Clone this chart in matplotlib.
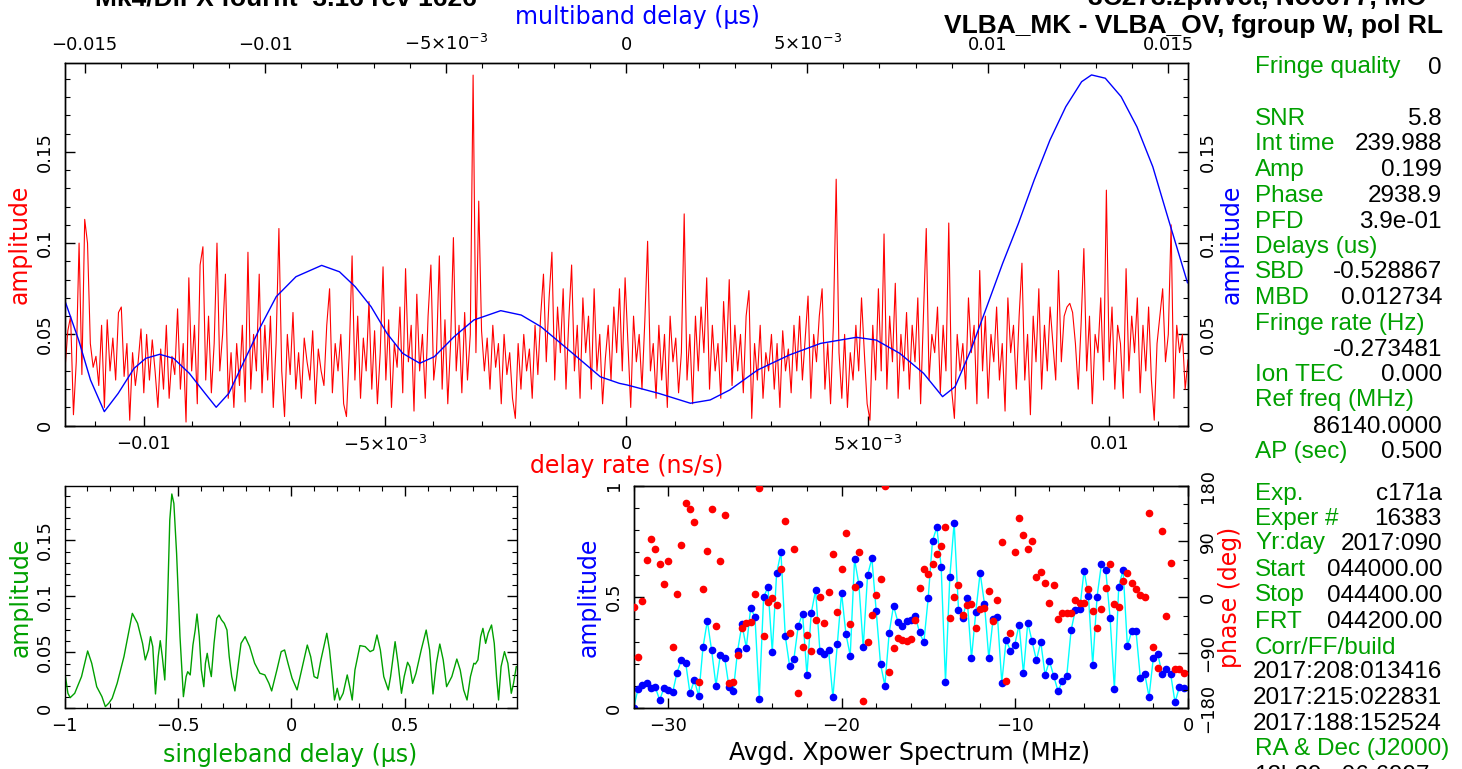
import matplotlib
matplotlib.use("Agg")
import matplotlib.pyplot as plt
from matplotlib.ticker import FixedLocator, FixedFormatter, MultipleLocator
import numpy as np

# ---------------- data ----------------
# delay-rate spectrum (red), evenly sampled across the bottom axis
rate_lo, rate_hi = -0.01163, 0.01163
rate_amp = [
    0.031, 0.052, 0.060, 0.006, 0.035, 0.100, 0.028, 0.113, 0.100, 0.045, 0.032, 0.038, 0.022, 0.055, 0.010, 0.058, 0.030, 0.048, 0.025, 0.062,
    0.065, 0.027, 0.045, 0.003, 0.040, 0.022, 0.035, 0.053, 0.018, 0.050, 0.025, 0.047, 0.030, 0.010, 0.042, 0.020, 0.055, 0.015, 0.038, 0.028,
    0.064, 0.020, 0.045, 0.002, 0.081, 0.030, 0.055, 0.012, 0.088, 0.098, 0.025, 0.060, 0.018, 0.045, 0.100, 0.030, 0.050, 0.083, 0.015, 0.040,
    0.010, 0.045, 0.022, 0.055, 0.013, 0.095, 0.020, 0.050, 0.030, 0.083, 0.018, 0.055, 0.025, 0.060, 0.010, 0.045, 0.108, 0.030, 0.005, 0.050,
    0.028, 0.062, 0.020, 0.040, 0.015, 0.048, 0.035, 0.025, 0.052, 0.012, 0.042, 0.030, 0.022, 0.055, 0.075, 0.018, 0.045, 0.030, 0.050, 0.012,
    0.005, 0.040, 0.093, 0.025, 0.060, 0.015, 0.048, 0.030, 0.068, 0.020, 0.052, 0.012, 0.040, 0.087, 0.025, 0.058, 0.010, 0.045, 0.032, 0.065,
    0.018, 0.086, 0.035, 0.055, 0.008, 0.072, 0.030, 0.050, 0.015, 0.060, 0.088, 0.025, 0.040, 0.093, 0.020, 0.058, 0.012, 0.045, 0.103, 0.030,
    0.055, 0.018, 0.062, 0.025, 0.050, 0.192, 0.040, 0.123, 0.052, 0.030, 0.048, 0.020, 0.055, 0.032, 0.045, 0.012, 0.050, 0.028, 0.040, 0.015,
    0.004, 0.045, 0.020, 0.050, 0.030, 0.042, 0.015, 0.055, 0.028, 0.060, 0.083, 0.035, 0.070, 0.095, 0.025, 0.065, 0.040, 0.075, 0.020, 0.058,
    0.088, 0.030, 0.055, 0.015, 0.070, 0.040, 0.060, 0.020, 0.075, 0.030, 0.050, 0.012, 0.037, 0.055, 0.025, 0.065, 0.040, 0.075, 0.030, 0.081,
    0.045, 0.010, 0.060, 0.035, 0.050, 0.020, 0.057, 0.101, 0.030, 0.045, 0.015, 0.055, 0.025, 0.050, 0.010, 0.060, 0.035, 0.048, 0.018, 0.040,
    0.116, 0.025, 0.050, 0.012, 0.060, 0.030, 0.065, 0.040, 0.081, 0.020, 0.055, 0.030, 0.045, 0.015, 0.068, 0.035, 0.080, 0.022, 0.055, 0.030,
    0.050, 0.018, 0.060, 0.074, 0.004, 0.045, 0.025, 0.055, 0.015, 0.040, 0.030, 0.050, 0.020, 0.045, 0.010, 0.052, 0.030, 0.042, 0.018, 0.055,
    0.030, 0.060, 0.025, 0.048, 0.071, 0.015, 0.050, 0.035, 0.060, 0.075, 0.020, 0.045, 0.012, 0.055, 0.135, 0.040, 0.015, 0.050, 0.010, 0.040,
    0.025, 0.055, 0.030, 0.070, 0.040, 0.012, 0.003, 0.055, 0.025, 0.075, 0.030, 0.105, 0.020, 0.060, 0.035, 0.078, 0.015, 0.050, 0.030, 0.062,
    0.020, 0.055, 0.035, 0.070, 0.012, 0.060, 0.108, 0.025, 0.050, 0.040, 0.065, 0.018, 0.055, 0.030, 0.111, 0.020, 0.004, 0.050, 0.030, 0.045,
    0.020, 0.070, 0.040, 0.055, 0.012, 0.085, 0.030, 0.060, 0.015, 0.050, 0.035, 0.065, 0.025, 0.045, 0.008, 0.070, 0.040, 0.055, 0.020, 0.060,
    0.089, 0.025, 0.050, 0.006, 0.060, 0.035, 0.075, 0.020, 0.055, 0.030, 0.065, 0.045, 0.025, 0.085, 0.035, 0.060, 0.065, 0.067, 0.062, 0.045,
    0.020, 0.055, 0.097, 0.030, 0.060, 0.012, 0.050, 0.040, 0.070, 0.025, 0.129, 0.035, 0.065, 0.020, 0.055, 0.045, 0.015, 0.086, 0.030, 0.060,
    0.040, 0.070, 0.018, 0.055, 0.030, 0.065, 0.025, 0.003, 0.045, 0.060, 0.075, 0.035, 0.050, 0.110, 0.015, 0.055, 0.040, 0.050, 0.020, 0.036,
]

# multiband delay function (blue), top axis
mbd_delay = [
    -0.015567, -0.015162, -0.014834, -0.014452, -0.014068, -0.013630, -0.013304, -0.012919, -0.012537, -0.012100,
    -0.011663, -0.011356, -0.011007, -0.010567, -0.010130, -0.009693, -0.009148, -0.008437, -0.007944, -0.007507,
    -0.007070, -0.006630, -0.006193, -0.005722, -0.005318, -0.004773, -0.004225, -0.003481, -0.002914, -0.002366,
    -0.001818, -0.001273, -0.000725, -0.000199, 0.000019, 0.000894, 0.001768, 0.002316, 0.002861, 0.003628,
    0.004502, 0.005376, 0.006361, 0.006909, 0.007565, 0.008221, 0.008747, 0.009095, 0.009532, 0.009972,
    0.010410, 0.010847, 0.011284, 0.011721, 0.012158, 0.012596, 0.012870, 0.013251, 0.013689, 0.014126,
    0.014566, 0.015003, 0.015526,
]
mbd_amp = [
    0.0698, 0.0469, 0.0250, 0.0077, 0.0177, 0.0314, 0.0369, 0.0391, 0.0369, 0.0287,
    0.0177, 0.0101, 0.0177, 0.0360, 0.0542, 0.0707, 0.0816, 0.0878, 0.0843, 0.0761,
    0.0652, 0.0506, 0.0396, 0.0342, 0.0378, 0.0487, 0.0579, 0.0630, 0.0606, 0.0542,
    0.0451, 0.0360, 0.0268, 0.0232, 0.0223, 0.0177, 0.0123, 0.0141, 0.0196, 0.0305,
    0.0387, 0.0451, 0.0484, 0.0469, 0.0396, 0.0287, 0.0159, 0.0214, 0.0415, 0.0652,
    0.0889, 0.1108, 0.1346, 0.1565, 0.1747, 0.1884, 0.1921, 0.1903, 0.1802, 0.1637,
    0.1418, 0.1127, 0.0783,
]

# singleband delay function (green)
sbd_delay = [
    -1.000, -0.985, -0.975, -0.955, -0.925, -0.898, -0.880, -0.858, -0.835, -0.820,
    -0.805, -0.790, -0.768, -0.738, -0.701, -0.678, -0.656, -0.644, -0.630, -0.621,
    -0.611, -0.599, -0.587, -0.578, -0.569, -0.558, -0.548, -0.536, -0.527, -0.518,
    -0.506, -0.491, -0.476, -0.464, -0.457, -0.446, -0.434, -0.424, -0.416, -0.406,
    -0.397, -0.386, -0.379, -0.371, -0.362, -0.353, -0.341, -0.329, -0.319, -0.308,
    -0.296, -0.284, -0.274, -0.263, -0.249, -0.237, -0.222, -0.204, -0.184, -0.162,
    -0.139, -0.117, -0.099, -0.087, -0.064, -0.045, -0.030, -0.015, 0.003, 0.025,
    0.045, 0.070, 0.085, 0.100, 0.115, 0.130, 0.156, 0.168, 0.180, 0.190,
    0.202, 0.213, 0.228, 0.246, 0.257, 0.268, 0.280, 0.302, 0.325, 0.347,
    0.362, 0.377, 0.392, 0.407, 0.427, 0.437, 0.457, 0.470, 0.485, 0.497,
    0.512, 0.522, 0.534, 0.549, 0.572, 0.594, 0.609, 0.624, 0.639, 0.654,
    0.669, 0.684, 0.707, 0.729, 0.744, 0.759, 0.774, 0.789, 0.804, 0.811,
    0.822, 0.834, 0.844, 0.856, 0.867, 0.882, 0.894, 0.904, 0.913, 0.924,
    0.939, 0.954, 0.969, 0.979, 0.991,
]
sbd_amp = [
    0.0342, 0.0134, 0.0095, 0.0134, 0.0283, 0.0512, 0.0402, 0.0193, 0.0104, 0.0015,
    0.0045, 0.0089, 0.0223, 0.0461, 0.0848, 0.0759, 0.0580, 0.0432, 0.0521, 0.0640,
    0.0551, 0.0128, 0.0461, 0.0604, 0.0461, 0.0253, 0.0789, 0.1682, 0.1914, 0.1830,
    0.1384, 0.0640, 0.0104, 0.0283, 0.0327, 0.0298, 0.0565, 0.0699, 0.0842, 0.0640,
    0.0342, 0.0193, 0.0402, 0.0491, 0.0372, 0.0283, 0.0580, 0.0804, 0.0833, 0.0789,
    0.0759, 0.0699, 0.0461, 0.0283, 0.0155, 0.0342, 0.0580, 0.0640, 0.0551, 0.0402,
    0.0313, 0.0298, 0.0223, 0.0155, 0.0342, 0.0506, 0.0521, 0.0402, 0.0268, 0.0164,
    0.0342, 0.0565, 0.0461, 0.0283, 0.0268, 0.0432, 0.0670, 0.0521, 0.0283, 0.0074,
    0.0179, 0.0074, 0.0134, 0.0298, 0.0193, 0.0074, 0.0342, 0.0560, 0.0551, 0.0506,
    0.0521, 0.0655, 0.0521, 0.0283, 0.0164, 0.0283, 0.0595, 0.0402, 0.0134, 0.0283,
    0.0411, 0.0372, 0.0223, 0.0313, 0.0521, 0.0699, 0.0521, 0.0128, 0.0402, 0.0574,
    0.0432, 0.0193, 0.0283, 0.0440, 0.0342, 0.0164, 0.0074, 0.0283, 0.0402, 0.0396,
    0.0432, 0.0640, 0.0714, 0.0580, 0.0670, 0.0744, 0.0580, 0.0283, 0.0074, 0.0372,
    0.0506, 0.0402, 0.0134, 0.0223, 0.0372,
]

# averaged cross-power spectrum: 128 channels of 0.25 MHz from -32 MHz
xp_start, xp_step = -32.0, 0.25
xp_amp = [
    0.003, 0.087, 0.105, 0.115, 0.090, 0.094, 0.037, 0.093, 0.082, 0.072, 0.160, 0.217, 0.205, 0.067, 0.127, 0.055,
    0.274, 0.392, 0.260, 0.102, 0.240, 0.228, 0.097, 0.079, 0.259, 0.377, 0.272, 0.449, 0.412, 0.043, 0.499, 0.545,
    0.253, 0.606, 0.701, 0.325, 0.190, 0.223, 0.371, 0.425, 0.150, 0.428, 0.531, 0.257, 0.246, 0.263, 0.049, 0.287,
    0.519, 0.335, 0.237, 0.669, 0.557, 0.274, 0.597, 0.674, 0.436, 0.199, 0.102, 0.340, 0.461, 0.388, 0.368, 0.392,
    0.398, 0.416, 0.341, 0.296, 0.494, 0.753, 0.813, 0.635, 0.118, 0.590, 0.834, 0.443, 0.406, 0.494, 0.225, 0.434,
    0.609, 0.469, 0.226, 0.403, 0.412, 0.115, 0.307, 0.259, 0.286, 0.376, 0.157, 0.385, 0.301, 0.216, 0.298, 0.150,
    0.213, 0.145, 0.076, 0.124, 0.145, 0.350, 0.443, 0.445, 0.618, 0.506, 0.196, 0.501, 0.647, 0.623, 0.407, 0.087,
    0.545, 0.623, 0.280, 0.346, 0.346, 0.135, 0.156, 0.052, 0.228, 0.246, 0.156, 0.177, 0.153, 0.027, 0.094, 0.090,
]
xp_phase = [
    -15.6, -96.5, -6.5, 59.8, 93.8, 78.1, 53.4, 20.5, 58.7, -80.8, 4.9, 84.6, 152.0, 142.3, 121.8, -138.0,
    13.5, 73.8, 141.7, -46.9, 58.2, 132.6, -139.6, -136.9, -94.3, -49.6, -41.5, -39.9, 4.9, 175.7, -63.1, -7.5,
    -1.6, -13.5, 44.7, 123.4, -57.7, 77.6, -155.7, -80.3, -62.0, -87.3, -37.2, -0.5, -42.6, 8.6, 70.1, -23.7,
    44.7, 104.0, -43.6, 16.7, 72.2, -168.1, -73.3, -29.6, 2.7, 28.6, 179.5, -121.3, -81.9, -66.8, -69.5, -70.6,
    -68.4, -36.6, 14.0, 44.7, 36.6, 53.4, 69.0, 83.0, 113.2, -34.0, 0.0, 18.9, -29.6, -12.9, -11.3, -49.6,
    -19.4, -18.3, 10.2, -38.3, -4.9, 88.4, -135.3, -57.7, 73.3, 127.7, 100.2, 77.1, 91.1, 32.9, 39.9, 22.1,
    -10.2, 19.9, -35.0, -25.3, -25.9, -25.9, -4.3, -10.2, -10.2, 13.5, -22.6, -50.1, -18.9, 14.0, 53.4, -11.9,
    -15.6, 25.9, 39.3, 22.6, 12.4, 3.8, 0.0, 135.3, -80.8, -114.8, 106.2, -30.2, 54.4, -115.9, -116.4, -122.9,
]

# text block on the right
info_rows = [
    ("Fringe quality", "0"), ("SNR", "5.8"), ("Int time", "239.988"), ("Amp", "0.199"),
    ("Phase", "2938.9"), ("PFD", "3.9e-01"), ("Delays (us)", ""), ("SBD", "-0.528867"),
    ("MBD", "0.012734"), ("Fringe rate (Hz)", ""), ("", "-0.273481"), ("Ion TEC", "0.000"),
    ("Ref freq (MHz)", ""), ("", "86140.0000"), ("AP (sec)", "0.500"),
    ("Exp.", "c171a"), ("Exper #", "16383"), ("Yr:day", "2017:090"), ("Start", "044000.00"),
    ("Stop", "044400.00"), ("FRT", "044200.00"), ("Corr/FF/build", ""), ("", "2017:208:013416"),
    ("", "2017:215:022831"), ("", "2017:188:152524"), ("RA & Dec (J2000)", ""), ("", "12h29m06.6997s"),
]
info_y = [65, 116.7, 142, 167.7, 193, 219, 245, 270, 296, 321.7, 347, 372.7, 398, 424, 449,
          491.7, 516.7, 541, 567, 593, 619, 645, 670, 696, 722, 747, 773]

title_left = "Mk4/DiFX fourfit  3.16 rev 1626"
title_right1 = "3C273.zpwvct, No0077, MO"
title_right2 = "VLBA_MK - VLBA_OV, fgroup W, pol RL"

# ---------------- figure ----------------
W, H = 1462, 769
fig = plt.figure(figsize=(W / 100, H / 100), dpi=100)
plt.rcParams['font.family'] = ['DejaVu Sans']
plt.rcParams['mathtext.fontset'] = 'dejavusans'

GREEN = '#00a000'
TICK_FS = 13
LAB_FS = 17
M = '\u2212'
EXP_NEG = r'$-5{\times}10^{-3}$'
EXP_POS = r'$5{\times}10^{-3}$'


def px_axes(x0, y0, x1, y1):
    return fig.add_axes([x0 / W, 1 - y1 / H, (x1 - x0) / W, (y1 - y0) / H])


def style(ax):
    for s in ax.spines.values():
        s.set_linewidth(1.0)
    ax.tick_params(which='both', direction='in', labelsize=TICK_FS)
    ax.tick_params(which='major', length=7, width=1.0)
    ax.tick_params(which='minor', length=3.5, width=0.8)


def rot_y(ax):
    for t in ax.yaxis.get_major_ticks():
        t.label1.set_rotation(90)
        t.label1.set_va('center')
        t.label2.set_rotation(90)
        t.label2.set_va('center')


amp_ticks = [0, 0.05, 0.1, 0.15]
amp_labels = ['0', '0.05', '0.1', '0.15']
AMP_TOP = 0.1988

# ---- top panel: delay rate (red) + multiband delay (blue)
ax = px_axes(65, 62.7, 1188, 425.7)
style(ax)
rate_x = np.linspace(rate_lo, rate_hi, len(rate_amp))
ax.plot(rate_x, rate_amp, color='red', lw=0.8)
ax.set_xlim(rate_lo, rate_hi)
ax.set_ylim(0, AMP_TOP)
ax.xaxis.set_major_locator(FixedLocator([-0.01, -0.005, 0, 0.005, 0.01]))
ax.xaxis.set_major_formatter(FixedFormatter([M + '0.01', EXP_NEG, '0', EXP_POS, '0.01']))
ax.xaxis.set_minor_locator(MultipleLocator(0.001))
ax.yaxis.set_major_locator(FixedLocator(amp_ticks))
ax.yaxis.set_major_formatter(FixedFormatter(amp_labels))
ax.yaxis.set_minor_locator(MultipleLocator(0.01))
ax.tick_params(which='both', top=False, right=True, labelright=True)
ax.tick_params(axis='x', pad=6.5)
ax.tick_params(axis='y', pad=8)
rot_y(ax)

axt = ax.twiny()
style(axt)
axt.plot(mbd_delay, mbd_amp, color='blue', lw=1.0)
axt.set_xlim(-0.01554, 0.01554)
axt.xaxis.set_major_locator(FixedLocator([-0.015, -0.01, -0.005, 0, 0.005, 0.01, 0.015]))
axt.xaxis.set_major_formatter(FixedFormatter([M + '0.015', M + '0.01', EXP_NEG, '0',
                                              EXP_POS, '0.01', '0.015']))
axt.xaxis.set_minor_locator(MultipleLocator(0.001))
axt.tick_params(axis='x', pad=6)

ax.text(-0.0401, 0.5, 'amplitude', color='red', rotation=90, fontsize=LAB_FS,
        ha='center', va='center', transform=ax.transAxes)
ax.text(1.039, 0.5, 'amplitude', color='blue', rotation=90, fontsize=LAB_FS,
        ha='center', va='center', transform=ax.transAxes)
ax.text(0.5, -0.111, 'delay rate (ns/s)', color='red', fontsize=LAB_FS,
        ha='center', va='center', transform=ax.transAxes)
ax.text(0.51, 1.126, 'multiband delay (\u03bcs)', color='blue', fontsize=LAB_FS,
        ha='center', va='center', transform=ax.transAxes)

# ---- bottom left: singleband delay
ax3 = px_axes(64.5, 485.7, 516.5, 708.3)
style(ax3)
ax3.plot(sbd_delay, sbd_amp, color=GREEN, lw=1.0)
ax3.set_xlim(-1, 0.992)
ax3.set_ylim(0, AMP_TOP)
ax3.xaxis.set_major_locator(FixedLocator([-1, -0.5, 0, 0.5]))
ax3.xaxis.set_major_formatter(FixedFormatter([M + '1', M + '0.5', '0', '0.5']))
ax3.xaxis.set_minor_locator(MultipleLocator(0.1))
ax3.yaxis.set_major_locator(FixedLocator(amp_ticks))
ax3.yaxis.set_major_formatter(FixedFormatter(amp_labels))
ax3.yaxis.set_minor_locator(MultipleLocator(0.01))
ax3.tick_params(which='both', top=True, right=True)
ax3.tick_params(axis='x', pad=6.5)
ax3.tick_params(axis='y', pad=8)
rot_y(ax3)
ax3.text(-0.098, 0.5, 'amplitude', color=GREEN, rotation=90, fontsize=LAB_FS,
         ha='center', va='center', transform=ax3.transAxes)
ax3.text(0.5, -0.21, 'singleband delay (\u03bcs)', color=GREEN, fontsize=LAB_FS,
         ha='center', va='center', transform=ax3.transAxes)

# ---- bottom right: cross-power spectrum
ax4 = px_axes(633.7, 485.7, 1188, 708.3)
style(ax4)
xp_freq = xp_start + xp_step * np.arange(len(xp_amp))
ax4.plot(xp_freq, xp_amp, color='#00ffff', lw=1.0, zorder=2)
ax4.plot(xp_freq, xp_amp, 'o', color='#0000ff', ms=4.5, mec='#0000ff', zorder=3)
ax4.set_xlim(-32, 0)
ax4.set_ylim(0, 1)
ax4.xaxis.set_major_locator(FixedLocator([-30, -20, -10, 0]))
ax4.xaxis.set_major_formatter(FixedFormatter([M + '30', M + '20', M + '10', '0']))
ax4.xaxis.set_minor_locator(MultipleLocator(2))
ax4.yaxis.set_major_locator(FixedLocator([0, 0.5, 1]))
ax4.yaxis.set_major_formatter(FixedFormatter(['0', '0.5', '1']))
ax4.yaxis.set_minor_locator(MultipleLocator(0.1))
ax4.tick_params(which='both', top=True, right=False)
ax4.tick_params(axis='x', pad=6)
ax4.tick_params(axis='y', pad=7.5)
rot_y(ax4)

ax5 = ax4.twinx()
style(ax5)
ax5.plot(xp_freq, xp_phase, 'o', color='#ff0000', ms=4.5, mec='#ff0000', zorder=3)
ax5.set_ylim(-180, 180)
ax5.yaxis.set_major_locator(FixedLocator([-180, -90, 0, 90, 180]))
ax5.yaxis.set_major_formatter(FixedFormatter([M + '180', M + '90', '0', '90', '180']))
ax5.yaxis.set_minor_locator(MultipleLocator(30))
ax5.tick_params(axis='y', pad=8)
rot_y(ax5)

ax4.text(-0.081, 0.5, 'amplitude', color='blue', rotation=90, fontsize=LAB_FS,
         ha='center', va='center', transform=ax4.transAxes)
ax4.text(1.076, 0.5, 'phase (deg)', color='red', rotation=90, fontsize=LAB_FS,
         ha='center', va='center', transform=ax4.transAxes)
ax4.text(0.498, -0.20, 'Avgd. Xpower Spectrum (MHz)', color='black', fontsize=LAB_FS,
         ha='center', va='center', transform=ax4.transAxes)

# ---- titles (top lines are clipped by the figure edge, as in the original)
TF = 'Liberation Sans'
fig.text(477 / W, 1 - 5 / H, title_left, fontsize=19, fontweight='bold', family=TF,
         ha='right', va='baseline')
fig.text(1427 / W, 1 - 5 / H, title_right1, fontsize=19, fontweight='bold', family=TF,
         ha='right', va='baseline')
fig.text(1443 / W, 1 - 33 / H, title_right2, fontsize=19, fontweight='bold', family=TF,
         ha='right', va='baseline')

# ---- info block
for (lab, val), yc in zip(info_rows, info_y):
    yb = 1 - (yc + 8.5) / H
    if lab:
        fig.text(1255 / W, yb, lab, color=GREEN, fontsize=17.5, family=TF,
                 ha='left', va='baseline')
    if val:
        fig.text(1442 / W, yb, val, color='black', fontsize=17.5, family=TF,
                 ha='right', va='baseline')

fig.savefig('out.png', dpi=100)
